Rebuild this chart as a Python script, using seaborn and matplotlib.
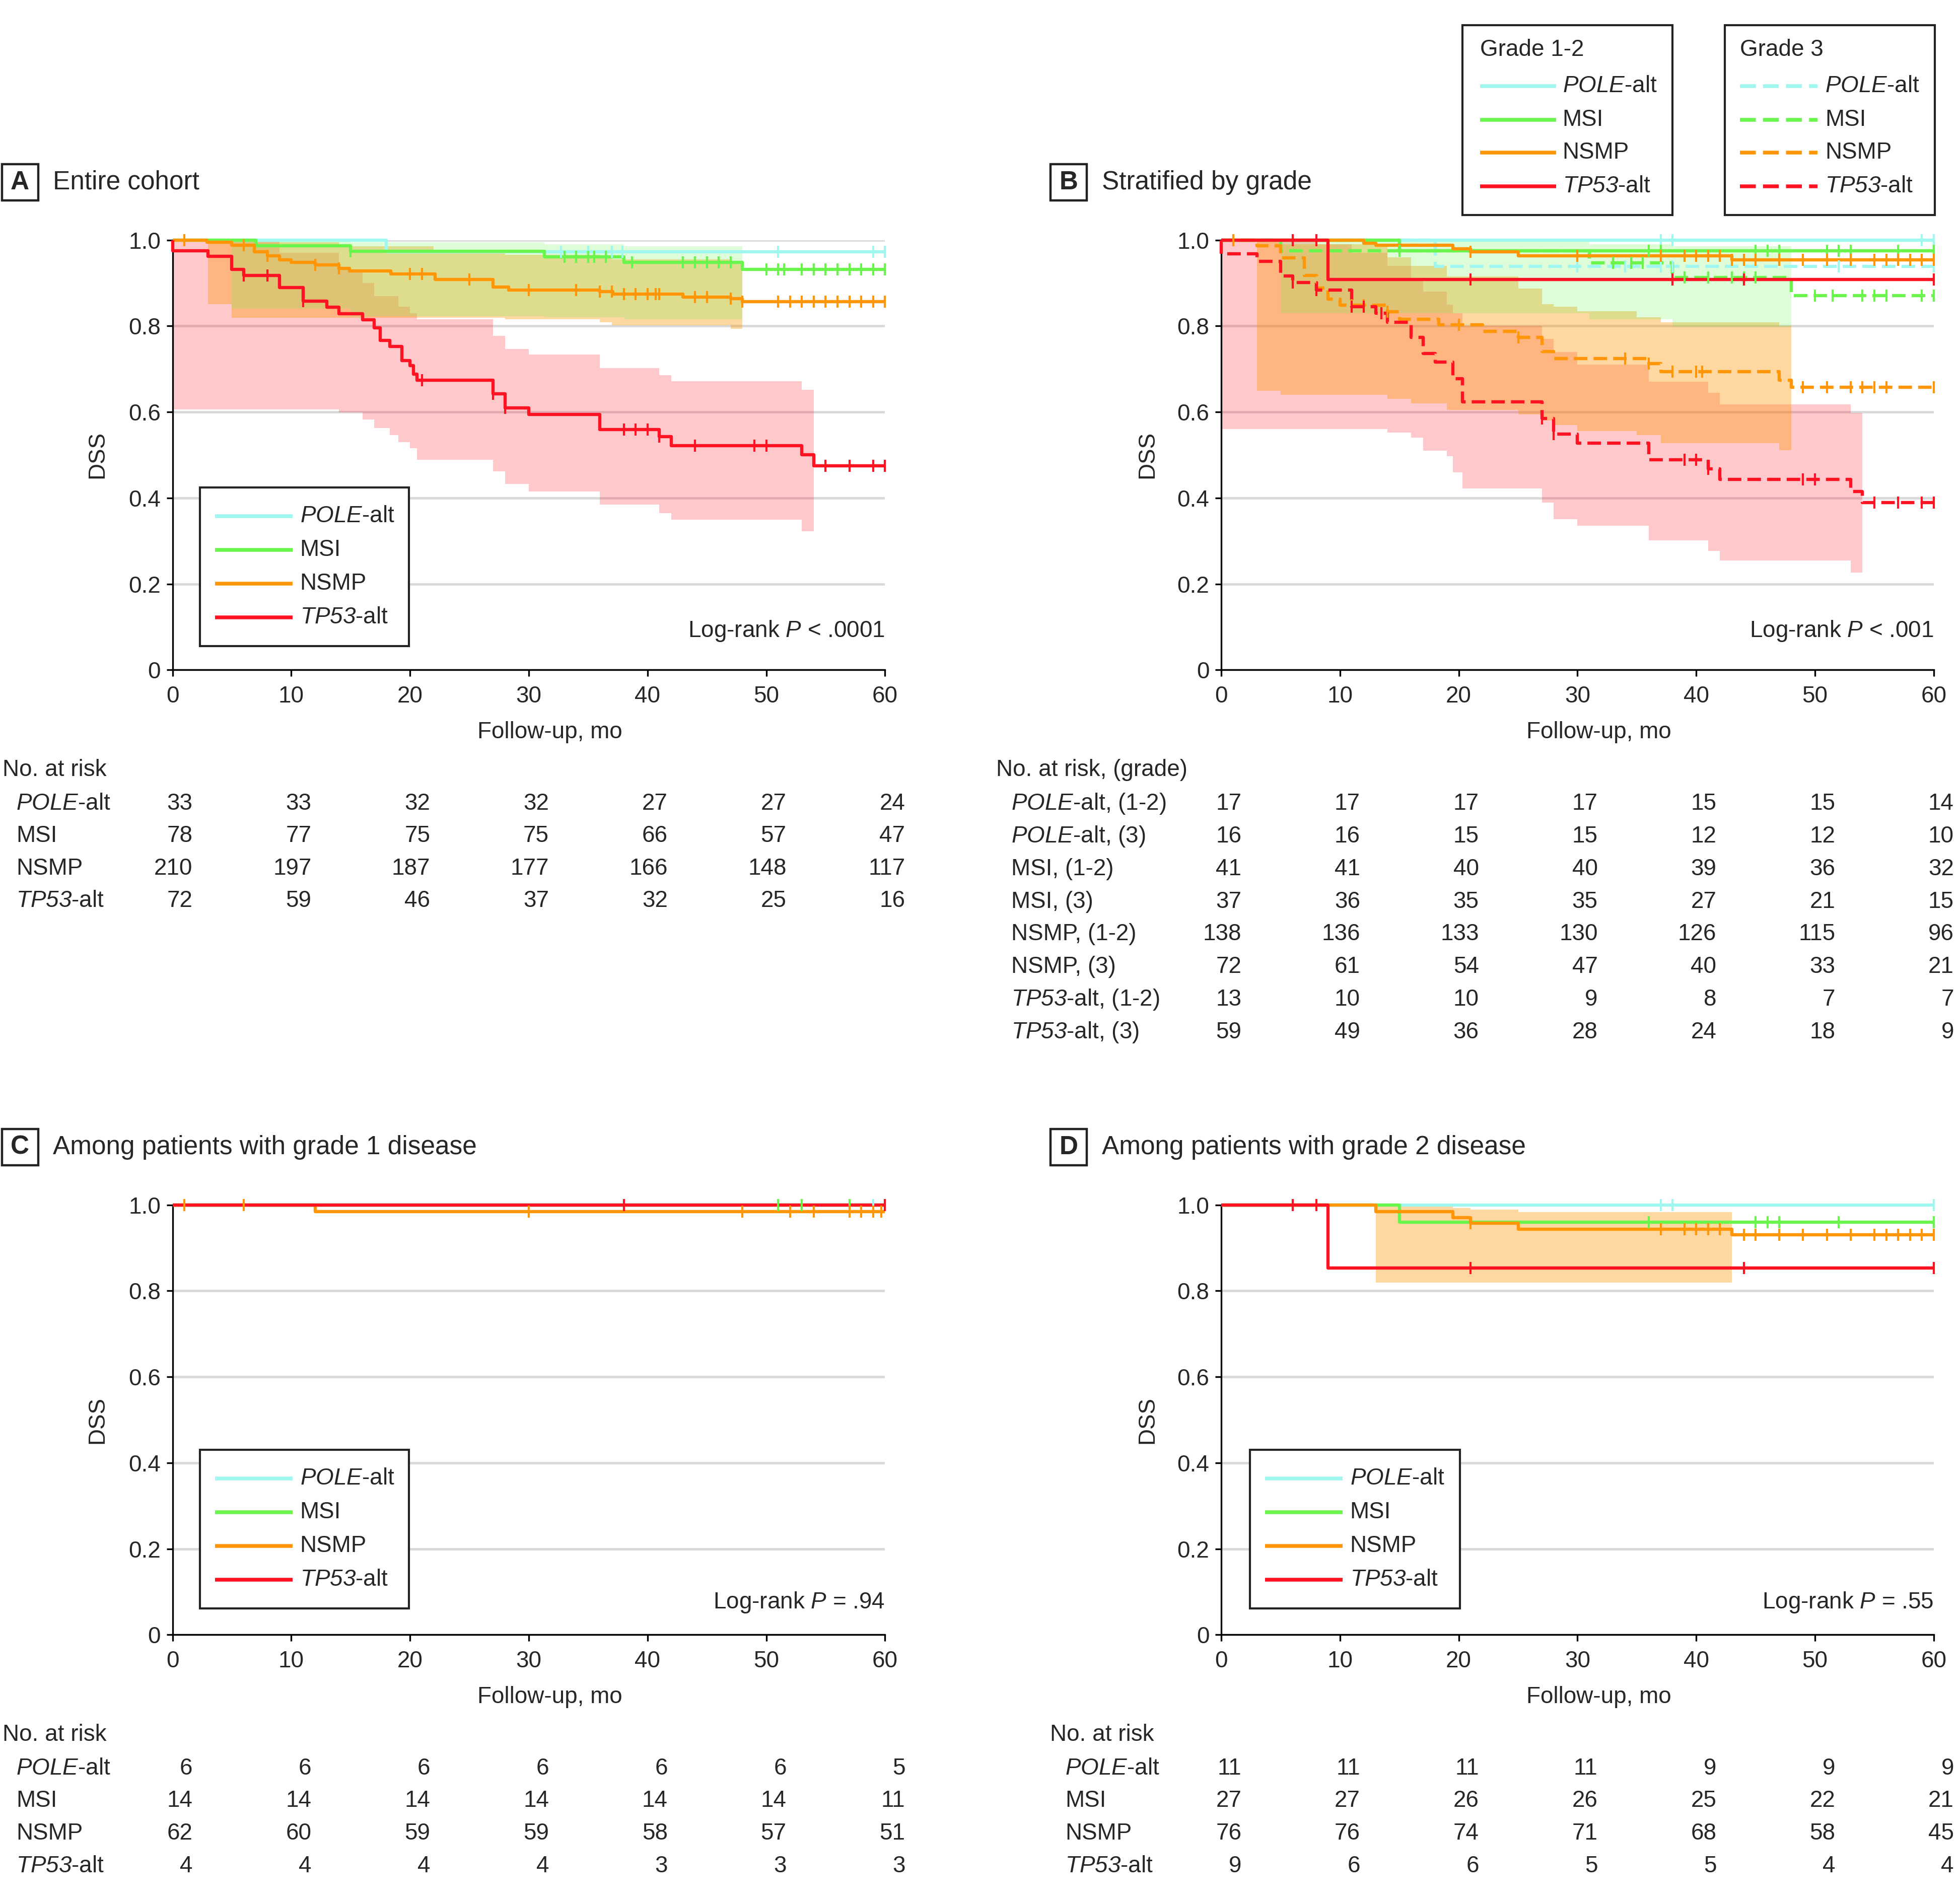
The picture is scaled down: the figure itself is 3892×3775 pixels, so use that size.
import numpy as np
import matplotlib
matplotlib.use("Agg")
import matplotlib.pyplot as plt
from matplotlib import font_manager
from matplotlib.lines import Line2D
from matplotlib.patches import Rectangle
from matplotlib.transforms import blended_transform_factory
import seaborn as sns

# ---------------------------------------------------------------- data
risk_times = [0, 10, 20, 30, 40, 50, 60]
groups = ["POLE", "MSI", "NSMP", "TP53"]

# Panel A: entire cohort (step times, survival after step, censor times)
A_POLE_t = [0, 18, 60]
A_POLE_s = [1.0, 0.972, 0.972]
A_POLE_c = [32.7, 35, 37, 37.9, 51, 59, 60]
A_MSI_t = [0, 7, 15, 31.3, 38, 48, 60]
A_MSI_s = [1.0, 0.987, 0.974, 0.961, 0.948, 0.931, 0.931]
A_MSI_c = [15, 33, 34, 35, 35.5, 36.5, 38.7, 43, 44, 45, 46, 47, 50, 51, 51.5, 53, 54, 55, 56, 57, 58, 59, 60]
A_NSMP_t = [0, 2.9, 5, 6.9, 8, 9, 10, 12, 14, 14.9, 18.4, 22.1, 27, 28.3, 36, 37.1, 43, 47, 48, 60]
A_NSMP_s = [1.0, 0.995, 0.988, 0.972, 0.963, 0.954, 0.948, 0.942, 0.934, 0.928, 0.921, 0.908, 0.891,
            0.884, 0.880, 0.874, 0.867, 0.864, 0.857, 0.857]
A_NSMP_c = [1, 6, 8, 12, 14, 20, 21, 25, 30, 34, 36, 37, 38, 39, 40, 40.7, 41, 44, 45, 47, 48,
            51, 52, 53, 54, 55, 56, 57, 58, 59, 60]
A_TP53_t = [0, 0, 3, 5, 6, 9, 11, 13, 14, 16, 17, 17.5, 18.3, 19.3, 20, 20.3, 20.6, 27, 28, 30, 36,
            41, 42, 53, 54, 60]
A_TP53_s = [1.0, 0.975, 0.962, 0.931, 0.918, 0.889, 0.858, 0.844, 0.828, 0.814, 0.796, 0.766, 0.752,
            0.720, 0.708, 0.688, 0.674, 0.642, 0.610, 0.594, 0.559, 0.543, 0.521, 0.500, 0.475, 0.475]
A_TP53_c = [6, 8, 11, 21, 27, 28, 38, 39, 40, 41, 44, 49, 50, 55, 57, 59, 60]

# Panel A confidence bands (interval edges, lower, upper)
A_TP53_band_x = [0, 9, 14, 16, 17, 18.3, 19, 20, 20.6, 27, 28, 30, 36, 41, 42, 53, 54]
A_TP53_band_hi = [1.0, 0.97, 0.93, 0.90, 0.87, 0.87, 0.845, 0.83, 0.816, 0.777, 0.746, 0.733,
                  0.702, 0.686, 0.672, 0.652]
A_TP53_band_lo = [0.606, 0.606, 0.599, 0.583, 0.562, 0.546, 0.53, 0.516, 0.489, 0.462, 0.433, 0.415,
                  0.384, 0.365, 0.349, 0.323]
A_NSMP_band_x = [3, 5, 7, 14, 22, 28, 36, 37, 47, 48]
A_NSMP_band_hi = [1.0, 1.0, 0.995, 0.985, 0.975, 0.965, 0.96, 0.955, 0.95]
A_NSMP_band_lo = [0.851, 0.819, 0.819, 0.819, 0.819, 0.816, 0.809, 0.801, 0.793]
A_MSI_band_x = [5, 15, 31.3, 38, 48]
A_MSI_band_hi = [0.998, 0.995, 0.99, 0.985]
A_MSI_band_lo = [0.84, 0.823, 0.82, 0.815]

# Panel B: stratified by grade
B12_POLE_t = [0, 60]
B12_POLE_s = [1.0, 1.0]
B12_POLE_c = [37, 38, 59, 60]
B12_MSI_t = [0, 15, 60]
B12_MSI_s = [1.0, 0.975, 0.975]
B12_MSI_c = [15, 36, 37, 45, 46, 47, 51, 52, 53, 57, 60]
B12_NSMP_t = [0, 12, 13, 19.5, 21, 25, 43, 60]
B12_NSMP_s = [1.0, 0.992, 0.988, 0.980, 0.972, 0.963, 0.954, 0.954]
B12_NSMP_c = [1, 21, 30, 37, 39, 40, 41, 42, 43, 44, 45, 47, 49, 51, 53, 55, 56, 57, 58, 59, 60]
B12_TP53_t = [0, 9, 60]
B12_TP53_s = [1.0, 0.908, 0.908]
B12_TP53_c = [6, 8, 21, 38, 44, 60]

B3_POLE_t = [0, 18, 60]
B3_POLE_s = [1.0, 0.938, 0.938]
B3_POLE_c = [30, 34, 37, 38, 52, 60]
B3_MSI_t = [0, 5, 31, 38, 48, 60]
B3_MSI_s = [1.0, 0.975, 0.947, 0.913, 0.871, 0.871]
B3_MSI_c = [15, 33, 34.5, 35.5, 39, 41, 43, 44, 45, 50, 51.5, 54, 55, 56, 59, 60]
B3_NSMP_t = [0, 3, 5, 7, 8, 9, 10, 14, 15, 18.3, 22, 25, 27, 28, 36, 37, 47, 48, 60]
B3_NSMP_s = [1.0, 0.987, 0.959, 0.918, 0.888, 0.862, 0.848, 0.833, 0.816, 0.803, 0.787, 0.773, 0.741,
             0.724, 0.713, 0.694, 0.674, 0.657, 0.657]
B3_NSMP_c = [1, 11, 12, 14, 20, 25, 34, 36, 38, 40, 40.5, 49, 51, 53, 54, 55, 56, 60]
B3_TP53_t = [0, 0, 3, 5, 6, 8, 11, 13, 14, 16, 17, 18, 19.5, 20.3, 27, 28, 30, 36, 41, 42, 53, 54, 60]
B3_TP53_s = [1.0, 0.968, 0.950, 0.916, 0.901, 0.883, 0.845, 0.830, 0.809, 0.773, 0.736, 0.716, 0.677,
             0.624, 0.585, 0.548, 0.527, 0.489, 0.468, 0.443, 0.415, 0.389, 0.389]
B3_TP53_c = [6, 8, 11, 12, 13.5, 27, 28, 39, 40, 41, 49, 50, 55, 57, 59, 60]

B_TP53_band_x = [0, 8, 11, 14, 16, 17, 19, 19.5, 20.3, 27, 28, 30, 36, 41, 42, 53, 54]
B_TP53_band_hi = [1.0, 0.99, 0.97, 0.94, 0.91, 0.88, 0.85, 0.83, 0.80, 0.77, 0.74, 0.71, 0.67, 0.645,
                  0.618, 0.598]
B_TP53_band_lo = [0.56, 0.56, 0.56, 0.552, 0.54, 0.51, 0.497, 0.46, 0.422, 0.389, 0.351, 0.335, 0.301,
                  0.277, 0.255, 0.226]
B_NSMP_band_x = [3, 5, 14, 16, 19, 25, 27, 28, 30, 35, 37, 47, 48]
B_NSMP_band_hi = [1.0, 0.99, 0.96, 0.94, 0.915, 0.887, 0.851, 0.845, 0.834, 0.82, 0.809, 0.80]
B_NSMP_band_lo = [0.649, 0.64, 0.63, 0.62, 0.605, 0.594, 0.58, 0.57, 0.555, 0.546, 0.527, 0.511]
B_MSI_band_x = [5, 31, 38, 48]
B_MSI_band_hi = [0.998, 0.99, 0.985]
B_MSI_band_lo = [0.83, 0.815, 0.798]

# Panel C: grade 1
C_POLE_t = [0, 60]
C_POLE_s = [1.0, 1.0]
C_POLE_c = [59]
C_MSI_t = [0, 60]
C_MSI_s = [1.0, 1.0]
C_MSI_c = [51, 53, 57]
C_NSMP_t = [0, 12, 60]
C_NSMP_s = [1.0, 0.984, 0.984]
C_NSMP_c = [1, 6, 30, 48, 52, 54, 57, 58, 59, 59.7]
C_TP53_t = [0, 60]
C_TP53_s = [1.0, 1.0]
C_TP53_c = [38, 60]

# Panel D: grade 2
D_POLE_t = [0, 60]
D_POLE_s = [1.0, 1.0]
D_POLE_c = [37, 38, 60]
D_MSI_t = [0, 15, 60]
D_MSI_s = [1.0, 0.96, 0.96]
D_MSI_c = [36, 45, 46, 47, 52, 60]
D_NSMP_t = [0, 13, 19.5, 21, 25, 43, 60]
D_NSMP_s = [1.0, 0.984, 0.970, 0.957, 0.943, 0.930, 0.930]
D_NSMP_c = [21, 37, 39, 40, 41, 42, 44, 45, 47, 49, 51, 53, 55, 56, 57, 58, 59, 60]
D_TP53_t = [0, 9, 60]
D_TP53_s = [1.0, 0.853, 0.853]
D_TP53_c = [6, 8, 21, 44, 60]
D_NSMP_band_x = [13, 19.5, 21, 25, 43]
D_NSMP_band_hi = [0.996, 0.993, 0.989, 0.983]
D_NSMP_band_lo = [0.819, 0.819, 0.819, 0.819]

# Numbers at risk
A_risk_POLE = [33, 33, 32, 32, 27, 27, 24]
A_risk_MSI = [78, 77, 75, 75, 66, 57, 47]
A_risk_NSMP = [210, 197, 187, 177, 166, 148, 117]
A_risk_TP53 = [72, 59, 46, 37, 32, 25, 16]

B_risk_POLE12 = [17, 17, 17, 17, 15, 15, 14]
B_risk_POLE3 = [16, 16, 15, 15, 12, 12, 10]
B_risk_MSI12 = [41, 41, 40, 40, 39, 36, 32]
B_risk_MSI3 = [37, 36, 35, 35, 27, 21, 15]
B_risk_NSMP12 = [138, 136, 133, 130, 126, 115, 96]
B_risk_NSMP3 = [72, 61, 54, 47, 40, 33, 21]
B_risk_TP5312 = [13, 10, 10, 9, 8, 7, 7]
B_risk_TP533 = [59, 49, 36, 28, 24, 18, 9]

C_risk_POLE = [6, 6, 6, 6, 6, 6, 5]
C_risk_MSI = [14, 14, 14, 14, 14, 14, 11]
C_risk_NSMP = [62, 60, 59, 59, 58, 57, 51]
C_risk_TP53 = [4, 4, 4, 4, 3, 3, 3]

D_risk_POLE = [11, 11, 11, 11, 9, 9, 9]
D_risk_MSI = [27, 27, 26, 26, 25, 22, 21]
D_risk_NSMP = [76, 76, 74, 71, 68, 58, 45]
D_risk_TP53 = [9, 6, 6, 5, 5, 4, 4]

# italic gene names are written with \mathsf, which is mapped to the italic face below
labels = ["$\\mathsf{POLE}$-alt", "MSI", "NSMP", "$\\mathsf{TP53}$-alt"]
B_labels = ["$\\mathsf{POLE}$-alt, (1-2)", "$\\mathsf{POLE}$-alt, (3)", "MSI, (1-2)", "MSI, (3)",
            "NSMP, (1-2)", "NSMP, (3)", "$\\mathsf{TP53}$-alt, (1-2)", "$\\mathsf{TP53}$-alt, (3)"]

# ---------------------------------------------------------------- style
sns.set_theme(style="ticks")


def pick_font():
    for fam in ["Liberation Sans Narrow", "Liberation Sans", "DejaVu Sans"]:
        try:
            font_manager.findfont(font_manager.FontProperties(family=fam), fallback_to_default=False)
            return fam
        except Exception:
            continue
    return "DejaVu Sans"


FONT = pick_font()
plt.rcParams["font.family"] = [FONT, "DejaVu Sans"]
plt.rcParams["mathtext.fontset"] = "custom"
plt.rcParams["mathtext.rm"] = FONT
plt.rcParams["mathtext.it"] = FONT + ":italic"
plt.rcParams["mathtext.sf"] = FONT + ":italic"
plt.rcParams["mathtext.bf"] = FONT + ":bold"

COL = {"POLE": "#a0f7ef", "MSI": "#6af54c", "NSMP": "#ff9608", "TP53": "#ff1222"}
BAND_ALPHA = {"POLE": 0.2, "MSI": 0.22, "NSMP": 0.38, "TP53": 0.23}
FS = 16.5
FS_T = 18.5
LW = 2.3
DASH = [4.2, 1.9]

W_D, H_D = 1568.0, 1521.0


def fx(d):
    return d / W_D


def fy(d):
    return 1.0 - d / H_D


fig = plt.figure(figsize=(3892 / 200, 3775 / 200), dpi=200)
fig.patch.set_facecolor("white")


def make_ax(left_d, top_d):
    ax = fig.add_axes([fx(left_d), fy(top_d + 344), 570 / W_D, 344 / H_D])
    ax.set_xlim(0, 60)
    ax.set_ylim(0, 1)
    ax.set_xticks(risk_times)
    ax.set_xticklabels([str(t) for t in risk_times])
    ax.set_yticks([0, 0.2, 0.4, 0.6, 0.8, 1.0])
    ax.set_yticklabels(["0", "0.2", "0.4", "0.6", "0.8", "1.0"])
    for s in ["top", "right"]:
        ax.spines[s].set_visible(False)
    for s in ["left", "bottom"]:
        ax.spines[s].set_color("black")
        ax.spines[s].set_linewidth(1.2)
    ax.grid(axis="y", color="#d9d9d9", linewidth=1.7)
    ax.grid(axis="x", visible=False)
    ax.set_axisbelow(True)
    ax.tick_params(axis="both", direction="out", length=4.5, width=1.2, color="black",
                   labelsize=FS, bottom=True, left=True)
    ax.tick_params(axis="x", pad=6.5)
    ax.tick_params(axis="y", pad=4)
    ax.set_facecolor("white")
    return ax


def band(ax, xe, lo, hi, key):
    xe = list(xe)
    lo = list(lo) + [lo[-1]]
    hi = list(hi) + [hi[-1]]
    ax.fill_between(xe, lo, hi, step="post", color=COL[key], alpha=BAND_ALPHA[key],
                    linewidth=0, zorder=1, clip_on=False)


def km(ax, t, s, cens, key, dashed=False):
    sns.lineplot(x=t, y=s, drawstyle="steps-post", estimator=None, sort=False, color=COL[key],
                 linewidth=LW, ax=ax, clip_on=False, zorder=3)
    line = ax.lines[-1]
    line.set_solid_capstyle("butt")
    if dashed:
        line.set_dashes(DASH)
    ta = np.asarray(t, dtype=float)
    sa = np.asarray(s, dtype=float)
    idx = np.searchsorted(ta, np.asarray(cens, dtype=float), side="right") - 1
    idx = np.clip(idx, 0, len(sa) - 1)
    sns.scatterplot(x=list(cens), y=list(sa[idx]), marker="|", s=75, color=COL[key],
                    edgecolor=COL[key], linewidth=1.5, ax=ax, clip_on=False, zorder=4, legend=False)


def header(letter, title, x_d, y_d):
    fig.add_artist(Rectangle((fx(x_d), fy(y_d + 29)), 29 / W_D, 29 / H_D, transform=fig.transFigure,
                             facecolor="white", edgecolor="#222222", linewidth=1.6))
    fig.text(fx(x_d + 14.5), fy(y_d + 14.5), letter, ha="center", va="center", fontsize=FS_T,
             fontweight="bold")
    fig.text(fx(x_d + 41), fy(y_d + 14.5), title, ha="left", va="center", fontsize=FS_T)


def legend_box(x0, y0, x1, rows, line_x0, line_x1, text_x, dashed=False, title=None, title_y=None,
               y1=None):
    fig.add_artist(Rectangle((fx(x0), fy(y1)), (x1 - x0) / W_D, (y1 - y0) / H_D,
                             transform=fig.transFigure, facecolor="white", edgecolor="#222222",
                             linewidth=1.5, zorder=5))
    if title is not None:
        fig.text(fx(line_x0), fy(title_y), title, ha="left", va="center", fontsize=FS, zorder=6)
    for key, lab, ry in zip(groups, labels, rows):
        ln = Line2D([fx(line_x0), fx(line_x1)], [fy(ry), fy(ry)], transform=fig.transFigure,
                    color=COL[key], linewidth=LW + 0.4, zorder=6, solid_capstyle="butt")
        if dashed:
            ln.set_dashes(DASH)
        fig.add_artist(ln)
        fig.text(fx(text_x), fy(ry), lab, ha="left", va="center", fontsize=FS, zorder=6)


def risk_table(ax, title, title_x, title_y, lab_x, rows_y, row_labels, row_vals):
    fig.text(fx(title_x), fy(title_y), title, ha="left", va="center", fontsize=FS)
    tr = blended_transform_factory(ax.transData, fig.transFigure)
    for lab, vals, ry in zip(row_labels, row_vals, rows_y):
        fig.text(fx(lab_x), fy(ry), lab, ha="left", va="center", fontsize=FS)
        for t, n in zip(risk_times, vals):
            ax.text(t + 1.7, fy(ry), str(n), transform=tr, ha="right", va="center", fontsize=FS)


def axis_labels(ax, dss_x, dss_y, xl_x, xl_y):
    fig.text(fx(dss_x), fy(dss_y), "DSS", rotation=90, ha="center", va="center", fontsize=FS)
    fig.text(fx(xl_x), fy(xl_y), "Follow-up, mo", ha="center", va="center", fontsize=FS)


# ---------------------------------------------------------------- Panel A
axA = make_ax(138, 192)
band(axA, A_TP53_band_x, A_TP53_band_lo, A_TP53_band_hi, "TP53")
band(axA, A_NSMP_band_x, A_NSMP_band_lo, A_NSMP_band_hi, "NSMP")
band(axA, A_MSI_band_x, A_MSI_band_lo, A_MSI_band_hi, "MSI")
km(axA, A_POLE_t, A_POLE_s, A_POLE_c, "POLE")
km(axA, A_MSI_t, A_MSI_s, A_MSI_c, "MSI")
km(axA, A_NSMP_t, A_NSMP_s, A_NSMP_c, "NSMP")
km(axA, A_TP53_t, A_TP53_s, A_TP53_c, "TP53")
axA.text(1.0, 0.09, "Log-rank $\\mathsf{P}$ < .0001", transform=axA.transAxes, ha="right",
         va="center", fontsize=FS)
header("A", "Entire cohort", 1.5, 131.5)
axis_labels(axA, 78, 364, 440, 586)
legend_box(160, 390, 327, [413, 440, 467, 494], 172, 234, 240, y1=517)
risk_table(axA, "No. at risk", 2, 616, 13, [643, 669, 695, 721], labels,
           [A_risk_POLE, A_risk_MSI, A_risk_NSMP, A_risk_TP53])

# ---------------------------------------------------------------- Panel B
axB = make_ax(977, 192)
band(axB, B_TP53_band_x, B_TP53_band_lo, B_TP53_band_hi, "TP53")
band(axB, B_NSMP_band_x, B_NSMP_band_lo, B_NSMP_band_hi, "NSMP")
band(axB, B_MSI_band_x, B_MSI_band_lo, B_MSI_band_hi, "MSI")
km(axB, B3_POLE_t, B3_POLE_s, B3_POLE_c, "POLE", dashed=True)
km(axB, B3_MSI_t, B3_MSI_s, B3_MSI_c, "MSI", dashed=True)
km(axB, B3_NSMP_t, B3_NSMP_s, B3_NSMP_c, "NSMP", dashed=True)
km(axB, B3_TP53_t, B3_TP53_s, B3_TP53_c, "TP53", dashed=True)
km(axB, B12_POLE_t, B12_POLE_s, B12_POLE_c, "POLE")
km(axB, B12_MSI_t, B12_MSI_s, B12_MSI_c, "MSI")
km(axB, B12_NSMP_t, B12_NSMP_s, B12_NSMP_c, "NSMP")
km(axB, B12_TP53_t, B12_TP53_s, B12_TP53_c, "TP53")
axB.text(1.0, 0.09, "Log-rank $\\mathsf{P}$ < .001", transform=axB.transAxes, ha="right",
         va="center", fontsize=FS)
header("B", "Stratified by grade", 840.5, 131.5)
axis_labels(axB, 918, 364, 1279, 586)
legend_box(1170, 20, 1338, [69, 96, 122, 149], 1184, 1245, 1250, title="Grade 1-2", title_y=40,
           y1=172)
legend_box(1380, 20, 1548, [69, 96, 122, 149], 1392, 1454, 1460, dashed=True, title="Grade 3",
           title_y=40, y1=172)
risk_table(axB, "No. at risk, (grade)", 797, 616, 809,
           [643 + 26.14 * i for i in range(8)], B_labels,
           [B_risk_POLE12, B_risk_POLE3, B_risk_MSI12, B_risk_MSI3, B_risk_NSMP12, B_risk_NSMP3,
            B_risk_TP5312, B_risk_TP533])

# ---------------------------------------------------------------- Panel C
axC = make_ax(138, 964)
km(axC, C_POLE_t, C_POLE_s, C_POLE_c, "POLE")
km(axC, C_MSI_t, C_MSI_s, C_MSI_c, "MSI")
km(axC, C_NSMP_t, C_NSMP_s, C_NSMP_c, "NSMP")
km(axC, C_TP53_t, C_TP53_s, C_TP53_c, "TP53")
axC.text(1.0, 0.075, "Log-rank $\\mathsf{P}$ = .94", transform=axC.transAxes, ha="right",
         va="center", fontsize=FS)
header("C", "Among patients with grade 1 disease", 1.5, 903.5)
axis_labels(axC, 78, 1136, 440, 1358)
legend_box(160, 1160, 327, [1183, 1210, 1237, 1264], 172, 234, 240, y1=1287)
risk_table(axC, "No. at risk", 2, 1388, 13, [1415, 1441, 1467, 1493], labels,
           [C_risk_POLE, C_risk_MSI, C_risk_NSMP, C_risk_TP53])

# ---------------------------------------------------------------- Panel D
axD = make_ax(977, 964)
band(axD, D_NSMP_band_x, D_NSMP_band_lo, D_NSMP_band_hi, "NSMP")
km(axD, D_POLE_t, D_POLE_s, D_POLE_c, "POLE")
km(axD, D_MSI_t, D_MSI_s, D_MSI_c, "MSI")
km(axD, D_NSMP_t, D_NSMP_s, D_NSMP_c, "NSMP")
km(axD, D_TP53_t, D_TP53_s, D_TP53_c, "TP53")
axD.text(1.0, 0.075, "Log-rank $\\mathsf{P}$ = .55", transform=axD.transAxes, ha="right",
         va="center", fontsize=FS)
header("D", "Among patients with grade 2 disease", 840.5, 903.5)
axis_labels(axD, 918, 1136, 1279, 1358)
legend_box(1000, 1160, 1168, [1183, 1210, 1237, 1264], 1012, 1074, 1080, y1=1287)
risk_table(axD, "No. at risk", 840, 1388, 852, [1415, 1441, 1467, 1493], labels,
           [D_risk_POLE, D_risk_MSI, D_risk_NSMP, D_risk_TP53])

fig.savefig("out.png", dpi=200, facecolor="white")
